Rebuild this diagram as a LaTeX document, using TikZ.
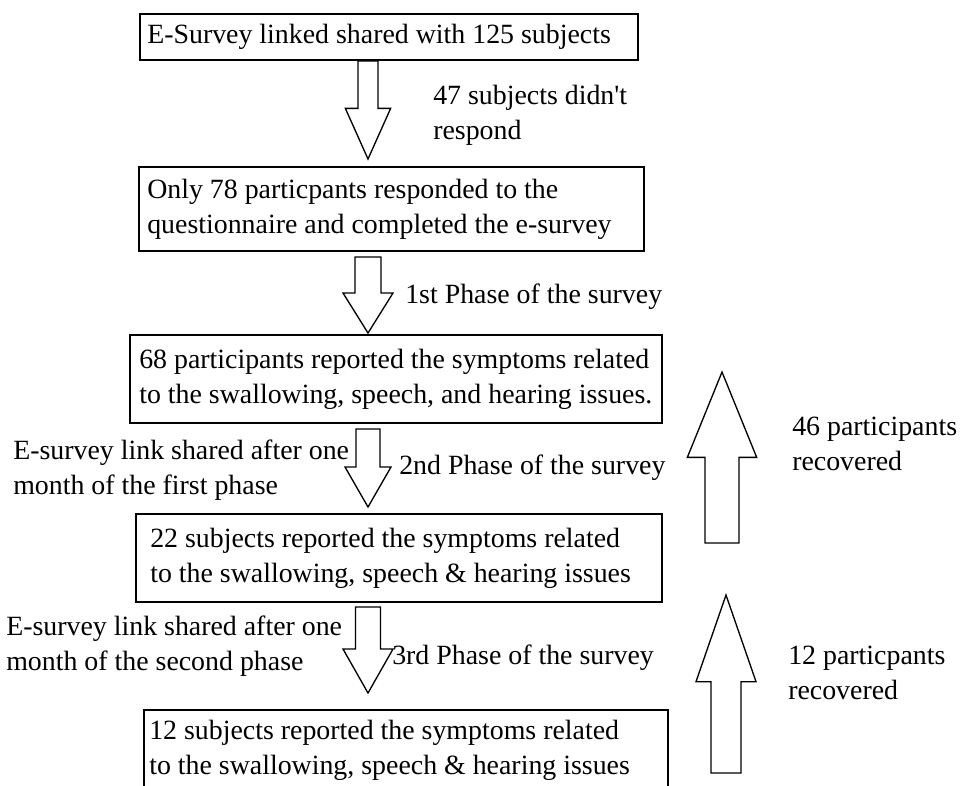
\documentclass[tikz,border=0pt]{standalone}
\usepackage{fontspec}
\setmainfont{Liberation Serif}
\usetikzlibrary{calc,positioning}
% hollow block arrow: tail, tip, half shaft, half head, head length
\newcommand{\blockarrow}[5]{%
  \coordinate (hb) at ($(#2)!#5!(#1)$);
  \draw[blk] ($(#1)!#3!90:(#2)$) -- ($(hb)!#3!-90:(#1)$) -- ($(hb)!#4!-90:(#1)$)
    -- (#2) -- ($(hb)!#4!90:(#1)$) -- ($(hb)!#3!90:(#1)$) -- ($(#1)!#3!-90:(#2)$) -- cycle;
}
\tikzset{
  box/.style={draw=black, line width=1.5pt, rectangle, anchor=north west, inner sep=0pt},
  txt/.style={align=left, inner sep=0pt, font=\fontsize{20.9}{26.25}\selectfont},
  lab/.style={txt, anchor=west},
  blk/.style={draw=black, line width=1pt, fill=white, line join=miter},
}

\begin{document}
\begin{tikzpicture}[x=0.75pt, y=-0.75pt]
  \useasboundingbox (0,0) rectangle (962,785);
  \clip (0,0) rectangle (962,785);
  \fill[white] (0,0) rectangle (962,785);

  % boxes
  \node[box, minimum width=373.5pt, minimum height=34.5pt] (b1) at (139,13) {};
  \node[box, minimum width=378.75pt, minimum height=63pt] (b2) at (138,166) {};
  \node[box, minimum width=399pt, minimum height=66pt] (b3) at (129,334) {};
  \node[box, minimum width=394.5pt, minimum height=66pt] (b4) at (135,513) {};
  \node[box, minimum width=393pt, minimum height=60pt] (b5) at (143,709) {};

  \node[txt, right=6pt of b1.west] (t1) {E-Survey linked shared with 125 subjects};
  \node[txt, right=6.75pt of b2.west] (t2) {Only 78 particpants responded to the\\questionnaire and completed the e-survey};
  \node[txt, right=7.5pt of b3.west] (t3) {68 participants reported the symptoms related\\to the swallowing, speech, and hearing issues.};
  \node[txt, right=11.25pt of b4.west] (t4) {22 subjects reported the symptoms related\\to the swallowing, speech \& hearing issues};
  \node[txt, right=4.5pt of b5.west] (t5) {12 subjects reported the symptoms related\\to the swallowing, speech \& hearing issues};

  % down arrows between the boxes
  \coordinate (col) at (368,0);
  \coordinate (d1a) at (b1.south -| col);
  \coordinate (d1b) at ($(b2.north -| col)+(0,-7)$);
  \coordinate (d2a) at ($(b2.south -| col)+(0,5)$);
  \coordinate (d2b) at ($(b3.north -| col)+(0,-1)$);
  \coordinate (d3a) at ($(b3.south -| col)+(0,5)$);
  \coordinate (d3b) at ($(b4.north -| col)+(0,-6)$);
  \coordinate (d4a) at ($(b4.south -| col)+(0,4)$);
  \coordinate (d4b) at ($(b5.north -| col)+(0,-16)$);
  \blockarrow{d1a}{d1b}{7.5pt}{17pt}{38pt}
  \blockarrow{d2a}{d2b}{9.75pt}{18.75pt}{30pt}
  \blockarrow{d3a}{d3b}{9pt}{17.25pt}{30pt}
  \blockarrow{d4a}{d4b}{9.4pt}{18.75pt}{33pt}

  % recovery arrows
  \coordinate (u1a) at (722,543);
  \coordinate (u1b) at (722,372);
  \coordinate (u2a) at (726,773);
  \coordinate (u2b) at (726,595);
  \blockarrow{u1a}{u1b}{12.75pt}{26pt}{64pt}
  \blockarrow{u2a}{u2b}{11.25pt}{22.5pt}{65pt}

  % labels
  \node[lab] (l1) at (433,115) {47 subjects didn\textquotesingle t\\respond};
  \node[lab] (l2) at (405,297) {1st Phase of the survey};
  \node[lab] (l3) at (13,470) {E-survey link shared after one\\month of the first phase};
  \node[lab] (l3r) at (399,468) {2nd Phase of the survey};
  \node[lab] (l4) at (6,646) {E-survey link shared after one\\month of the second phase};
  \node[lab] (l4r) at (392,658) {3rd Phase of the survey};
  \node[lab] (r1) at (792,444) {46 participants\\recovered};
  \node[lab] (r2) at (788,673) {12 particpants\\recovered};
\end{tikzpicture}
\end{document}
